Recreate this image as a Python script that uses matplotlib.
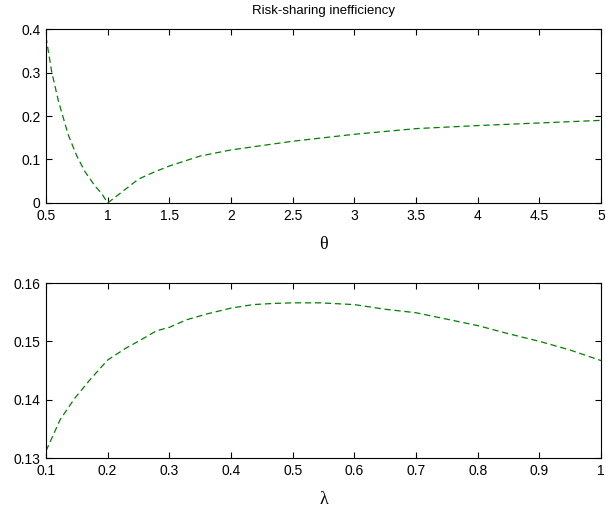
import matplotlib
matplotlib.use("Agg")
import matplotlib.pyplot as plt

# Top panel: inefficiency vs theta
theta = [0.5, 0.546, 0.6, 0.681, 0.75, 0.816, 0.9, 0.951, 1.0, 1.25,
         1.384, 1.5, 1.75, 2.0, 2.5, 3.0, 3.5, 4.0, 4.5, 5.0]
ineff_theta = [0.382, 0.302, 0.235, 0.156, 0.108, 0.072, 0.038, 0.022,
               0.0, 0.055, 0.072, 0.085, 0.108, 0.122, 0.142, 0.158,
               0.171, 0.178, 0.184, 0.190]

# Bottom panel: inefficiency vs lambda
lam = [0.1, 0.123, 0.147, 0.172, 0.2, 0.229, 0.253, 0.279, 0.3, 0.328,
       0.361, 0.4, 0.436, 0.469, 0.5, 0.544, 0.6, 0.65, 0.7, 0.75,
       0.8, 0.85, 0.9, 0.95, 1.0]
ineff_lam = [0.1312, 0.1366, 0.1403, 0.1435, 0.1468, 0.1488, 0.1502,
             0.1518, 0.1524, 0.1537, 0.1547, 0.1557, 0.1563, 0.1565,
             0.1566, 0.1566, 0.1563, 0.1555, 0.1549, 0.1538, 0.1527,
             0.1513, 0.1500, 0.1485, 0.1467]

plt.rcParams["font.family"] = ["Liberation Sans", "DejaVu Sans"]
plt.rcParams["font.size"] = 10

fig = plt.figure(figsize=(6.06, 5.08), dpi=100)
ax1 = fig.add_axes([0.0759, 0.6004, 0.916, 0.3425])
ax2 = fig.add_axes([0.0759, 0.0984, 0.916, 0.3445])

line_kw = dict(color="#008000", linestyle="--", linewidth=0.9, dashes=(5, 3))
serif = ["Liberation Serif", "DejaVu Serif"]

ax1.plot(theta, ineff_theta, **line_kw)
ax1.set_xlim(0.5, 5)
ax1.set_ylim(0, 0.4)
ax1.set_xticks([0.5, 1, 1.5, 2, 2.5, 3, 3.5, 4, 4.5, 5])
ax1.set_xticklabels(["0.5", "1", "1.5", "2", "2.5", "3", "3.5", "4", "4.5", "5"])
ax1.set_yticks([0, 0.1, 0.2, 0.3, 0.4])
ax1.set_yticklabels(["0", "0.1", "0.2", "0.3", "0.4"])
ax1.set_title("Risk-sharing inefficiency", fontsize=9.5, pad=11)
ax1.set_xlabel("θ", family=serif, fontsize=13, labelpad=10)

ax2.plot(lam, ineff_lam, **line_kw)
ax2.set_xlim(0.1, 1)
ax2.set_ylim(0.13, 0.16)
ax2.set_xticks([0.1, 0.2, 0.3, 0.4, 0.5, 0.6, 0.7, 0.8, 0.9, 1.0])
ax2.set_xticklabels(["0.1", "0.2", "0.3", "0.4", "0.5", "0.6", "0.7", "0.8", "0.9", "1"])
ax2.set_yticks([0.13, 0.14, 0.15, 0.16])
ax2.set_yticklabels(["0.13", "0.14", "0.15", "0.16"])
ax2.set_xlabel("λ", family=serif, fontsize=13, labelpad=10)

for ax in (ax1, ax2):
    ax.tick_params(direction="in", top=True, right=True, length=4, width=0.8)
    ax.tick_params(axis="x", pad=4)
    ax.tick_params(axis="y", pad=4)
    for s in ax.spines.values():
        s.set_linewidth(0.8)

fig.savefig("out.png", dpi=100)
